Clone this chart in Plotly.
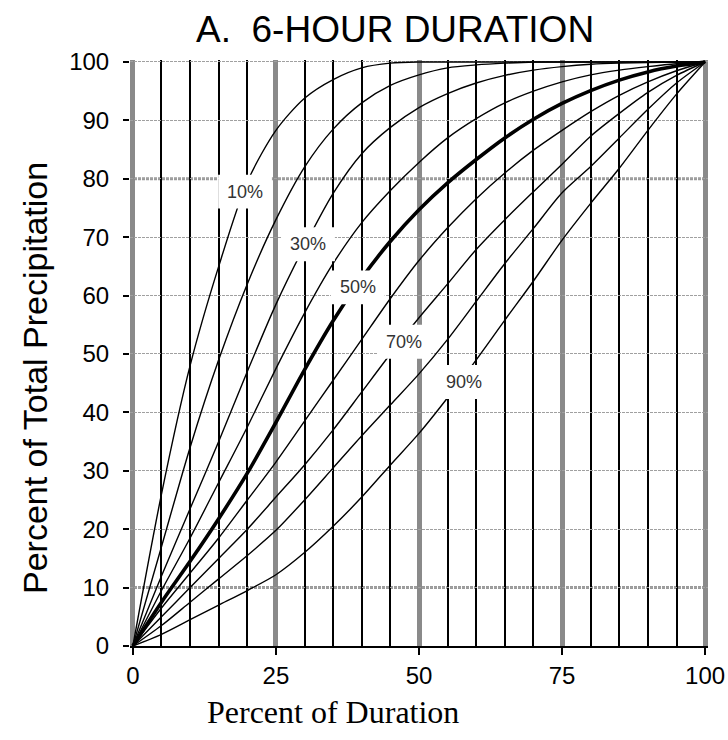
import plotly.graph_objects as go

# ---------------- data ----------------
pct_duration = [0, 5, 10, 15, 20, 25, 30, 35, 40, 45, 50, 55, 60, 65, 70, 75, 80, 85, 90, 95, 100]

curve_10 = [0, 26, 48, 65, 79.5, 88.3, 93.8, 97, 99, 99.8, 100, 100, 100, 100, 100, 100, 100, 100, 100, 100, 100]
curve_20 = [0, 17, 34, 49, 62, 73, 82, 88.5, 93, 96, 97.8, 99, 99.5, 99.8, 100, 100, 100, 100, 100, 100, 100]
curve_30 = [0, 12, 23.5, 35, 47, 58.5, 68.5, 77.5, 84.3, 88.8, 92.2, 94.6, 96.4, 97.7, 98.6, 99.2, 99.6, 99.8, 99.9, 100, 100]
curve_40 = [0, 9.5, 18.5, 28, 37.5, 47.5, 57, 65.5, 72.5, 78, 82.8, 87, 90.3, 93, 95, 96.6, 97.8, 98.6, 99.2, 99.7, 100]
curve_50 = [0, 7.5, 14.5, 21.8, 29.6, 38.3, 47.3, 55.7, 63, 69.3, 74.7, 79.3, 83.3, 87, 90.2, 92.9, 95.1, 96.9, 98.3, 99.3, 100]
curve_60 = [0, 6.5, 12.5, 18.5, 25, 31.5, 38.5, 45.5, 52.5, 59.5, 66, 71.6, 76.6, 81, 84.9, 88.3, 91.5, 94.3, 96.6, 98.5, 100]
curve_70 = [0, 5, 10, 15, 20, 25.5, 31, 37, 43.5, 50, 56.2, 62, 67.9, 73, 77.8, 82.5, 87.3, 91.2, 94.8, 97.7, 100]
curve_80 = [0, 3.5, 7.5, 11.5, 15.5, 19.8, 25, 30.5, 36, 41.3, 46.6, 52.5, 59, 65.5, 71.5, 77.6, 82.1, 87, 91.9, 96.4, 100]
curve_90 = [0, 2, 4.5, 7, 9.5, 12.2, 16, 20.5, 25.5, 31, 36.4, 42.5, 49, 55.8, 62.5, 69.5, 75.8, 81.8, 88.3, 94.5, 100]

curve_names = ["10%", "20%", "30%", "40%", "50%", "60%", "70%", "80%", "90%"]
curves = [curve_10, curve_20, curve_30, curve_40, curve_50, curve_60, curve_70, curve_80, curve_90]

label_text = ["10%", "30%", "50%", "70%", "90%"]
label_x = [19.6, 30.6, 39.3, 47.4, 57.9]
label_y = [77.8, 68.8, 61.4, 52.1, 45.2]

x_ticks = [0, 25, 50, 75, 100]
y_ticks = [0, 10, 20, 30, 40, 50, 60, 70, 80, 90, 100]
heavy_y_grid = [10, 80]

# ---------------- figure ----------------
fig = go.Figure()

for name, vals in zip(curve_names, curves):
    fig.add_trace(go.Scatter(
        x=pct_duration, y=vals, mode="lines", name=name,
        line=dict(color="black", width=3.6 if name == "50%" else 1.4, shape="spline", smoothing=0.8),
        hoverinfo="skip", showlegend=False,
    ))

SANS = "Liberation Sans, Arial, sans-serif"

# heavier dashed horizontal lines
for yv in heavy_y_grid:
    fig.add_shape(type="line", xref="paper", x0=0, x1=1, yref="y", y0=yv, y1=yv,
                  line=dict(color="#9a9a9a", width=3, dash="3px,1px"), layer="below")

# label boxes
bw, bh = 4.7, 2.9
for t, lx, ly in zip(label_text, label_x, label_y):
    fig.add_shape(type="rect", xref="x", yref="y", x0=lx - bw, x1=lx + bw, y0=ly - bh, y1=ly + bh,
                  fillcolor="white", line=dict(width=0), layer="above")
    fig.add_annotation(x=lx, y=ly, xref="x", yref="y", text=t, showarrow=False,
                       font=dict(family=SANS, size=18, color="#333"))

fig.update_xaxes(
    range=[-0.5, 100.5], tickvals=x_ticks,
    showgrid=True, gridcolor="#8a8a8a", gridwidth=5,
    minor=dict(tick0=0, dtick=5, showgrid=True, gridcolor="black", gridwidth=1.5, ticks=""),
    showline=True, linecolor="black", linewidth=2,
    ticks="outside", ticklen=7, tickwidth=2, tickcolor="black",
    tickfont=dict(family=SANS, size=24, color="black"), ticklabelstandoff=0,
    zeroline=False, fixedrange=True, automargin=False,
)
fig.update_yaxes(
    range=[0, 100.34], tickvals=y_ticks,
    showgrid=True, gridcolor="#a0a0a0", gridwidth=1.2, griddash="3px,1px",
    showline=False, ticks="outside", ticklen=6, tickwidth=1.5, tickcolor="black",
    tickfont=dict(family=SANS, size=24, color="black"), ticklabelstandoff=9,
    zeroline=False, fixedrange=True, automargin=False,
)

W, H = 728, 740
L, R, T, B = 130, 20, 60, 94
pw, ph = W - L - R, H - T - B

def px_to_paper(px, py):
    return (px - L) / pw, (H - B - py) / ph

tx, ty = px_to_paper(395, 30)
fig.add_annotation(xref="paper", yref="paper", x=tx, y=ty, text="A.  6-HOUR DURATION",
                   showarrow=False, xanchor="center", yanchor="middle",
                   font=dict(family=SANS, size=37, color="black"))
yx, yy = px_to_paper(35, 378)
fig.add_annotation(xref="paper", yref="paper", x=yx, y=yy, text="Percent of Total Precipitation",
                   showarrow=False, textangle=-90, xanchor="center", yanchor="middle",
                   font=dict(family=SANS, size=34, color="black"))
xx, xy = px_to_paper(333, 712)
fig.add_annotation(xref="paper", yref="paper", x=xx, y=xy, text="Percent of Duration",
                   showarrow=False, xanchor="center", yanchor="middle",
                   font=dict(family="Liberation Serif, Times New Roman, serif", size=32, color="black"))

fig.update_layout(
    width=W, height=H, margin=dict(l=L, r=R, t=T, b=B),
    paper_bgcolor="white", plot_bgcolor="white", showlegend=False,
)

fig.write_html("out.html")
